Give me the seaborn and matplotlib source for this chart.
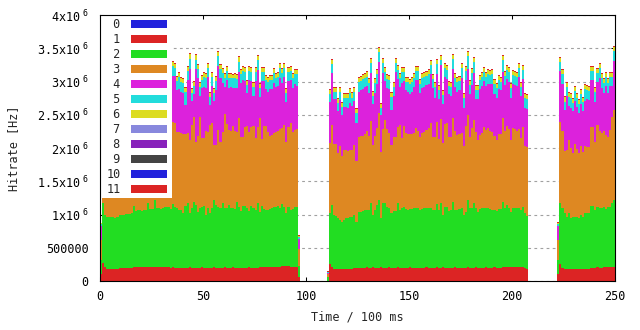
import numpy as np
import pandas as pd
import matplotlib
matplotlib.use("Agg")
import matplotlib.pyplot as plt
from matplotlib.patches import Patch, Rectangle
from matplotlib.ticker import FuncFormatter, MultipleLocator
import seaborn as sns

# First time slot (in units of 100 ms) of each recorded segment
seg_start = [0, 110, 222]

# Hit rate per source in kHz, one list per segment
src1 = [
    [100,
     265, 215, 185, 185, 185, 185, 185, 185, 190,
     190, 190, 190, 190, 190, 200, 205, 205, 205, 205,
     205, 205, 205, 205, 205, 205, 205, 205, 205, 205,
     205, 205, 205, 205, 200, 205, 200, 195, 200, 200,
     195, 200, 200, 205, 200, 200, 200, 195, 200, 205,
     200, 200, 200, 200, 200, 205, 200, 200, 200, 200,
     205, 200, 200, 200, 205, 200, 200, 200, 200, 200,
     200, 200, 205, 200, 200, 200, 200, 205, 210, 210,
     210, 210, 205, 210, 215, 215, 215, 215, 220, 220,
     220, 220, 215, 215, 215, 215, 55],
    [0, 255, 215, 175, 175, 175, 175, 175, 175, 180,
     180, 180, 180, 200, 200, 200, 200, 200, 200, 205,
     200, 200, 205, 200, 200, 200, 205, 200, 200, 200,
     205, 200, 200, 200, 205, 200, 200, 200, 200, 200,
     205, 200, 200, 200, 200, 200, 200, 200, 205, 200,
     200, 200, 200, 205, 200, 200, 205, 200, 200, 200,
     200, 200, 205, 200, 200, 200, 200, 200, 205, 200,
     200, 200, 205, 200, 200, 200, 200, 205, 200, 200,
     200, 205, 200, 200, 200, 205, 205, 205, 205, 205,
     205, 210, 205, 205, 205, 205, 200, 180],
    [100, 255, 200, 175, 175, 175, 175, 175, 175, 180, 180, 180, 180, 185,
     185, 185, 190, 190, 200, 205, 200, 200, 205, 205, 205, 205, 205, 210],
]
src2 = [
    [210,
     913, 778, 775, 770, 775, 780, 765, 775, 800,
     810, 805, 820, 815, 825, 830, 923, 845, 860, 865,
     855, 870, 863, 963, 873, 880, 1015, 888, 895, 883,
     890, 913, 905, 915, 877, 953, 918, 897, 867, 867,
     822, 928, 978, 822, 892, 983, 943, 847, 892, 913,
     928, 792, 892, 827, 892, 1013, 943, 918, 892, 968,
     887, 892, 943, 892, 887, 877, 993, 918, 857, 933,
     933, 892, 852, 928, 892, 867, 968, 837, 918, 867,
     857, 857, 872, 882, 893, 893, 913, 888, 938, 898,
     807, 898, 852, 862, 903, 903, 170],
    [60, 762, 928, 817, 802, 767, 742, 717, 742, 762,
     762, 787, 787, 792, 692, 842, 842, 857, 867, 862,
     867, 968, 787, 867, 943, 1018, 737, 978, 968, 918,
     887, 817, 857, 857, 963, 867, 892, 918, 877, 867,
     872, 882, 892, 892, 892, 867, 877, 892, 887, 892,
     892, 867, 867, 953, 867, 968, 787, 918, 918, 857,
     867, 993, 862, 867, 877, 892, 792, 842, 1013, 892,
     892, 968, 887, 842, 877, 892, 892, 887, 892, 877,
     867, 862, 857, 877, 877, 988, 887, 938, 887, 837,
     887, 882, 887, 887, 862, 913, 817, 797],
    [210, 922, 892, 842, 782, 842, 767, 792, 792, 777, 762, 812, 787, 832,
     832, 842, 938, 943, 867, 913, 892, 892, 903, 872, 913, 913, 963, 1008],
]
src3 = [
    [310,
     1150, 1250, 1200, 1300, 1250, 1150, 1300, 1200, 1250,
     1150, 1200, 1250, 1100, 1200, 1250, 1100, 1200, 1150, 1250,
     1200, 1100, 1200, 1100, 1250, 1150, 1050, 1200, 1150, 1250,
     1200, 1150, 1200, 1250, 1168, 1238, 1253, 1153, 1178, 1163,
     1193, 1082, 1042, 1093, 1254, 1278, 952, 1138, 1369, 1027,
     1017, 1268, 1153, 1319, 1279, 827, 902, 1152, 1003, 1077,
     1419, 1269, 1127, 1168, 1239, 1183, 1052, 1328, 1113, 1037,
     1178, 1239, 1188, 1183, 1239, 1088, 1143, 1404, 1007, 1254,
     1264, 1178, 1103, 1103, 1112, 1132, 1132, 1178, 1138, 1228,
     1068, 1193, 1304, 1168, 1152, 1163, 250],
    [40, 1053, 1203, 1068, 1083, 988, 1113, 987, 1053, 1028,
     1018, 1003, 1003, 1053, 917, 1118, 1138, 1123, 1143, 1193,
     1113, 1238, 1053, 1113, 1153, 1313, 1003, 1103, 1253, 1163,
     1138, 1028, 1113, 1113, 1143, 1279, 1053, 1213, 1143, 1143,
     1128, 1123, 1138, 1204, 1168, 1103, 1153, 1153, 1178, 1204,
     1289, 1103, 1093, 1238, 1063, 1263, 1078, 1243, 1253, 1113,
     1103, 1258, 1193, 1128, 1128, 1138, 1038, 1289, 1278, 1078,
     1204, 1253, 1153, 1078, 1118, 1138, 1219, 1178, 1204, 1183,
     1178, 1113, 1063, 1133, 1133, 1263, 1168, 1188, 1189, 1078,
     1204, 1189, 1168, 1189, 1078, 1193, 1013, 1033],
    [310, 1218, 1168, 943, 1013, 1103, 1053, 963, 1093, 1023, 988, 1038, 978, 1013,
     1003, 993, 1183, 1178, 1028, 1228, 1168, 1128, 1152, 1118, 1052, 1152, 1303, 1353],
]
src4 = [
    [200,
     650, 700, 750, 600, 700, 800, 650, 700, 650,
     750, 700, 650, 800, 700, 650, 750, 700, 750, 650,
     700, 800, 700, 750, 650, 750, 800, 700, 750, 650,
     700, 750, 700, 650, 603, 687, 712, 623, 648, 618,
     613, 437, 798, 1063, 361, 356, 1088, 868, 326, 753,
     778, 648, 828, 301, 562, 662, 823, 964, 953, 738,
     407, 657, 638, 653, 577, 648, 653, 702, 803, 848,
     697, 491, 773, 697, 451, 853, 862, 326, 873, 677,
     552, 603, 703, 688, 763, 678, 673, 777, 687, 722,
     592, 697, 647, 663, 698, 652, 155],
    [25, 622, 787, 672, 672, 632, 692, 618, 652, 652,
     637, 712, 662, 662, 562, 688, 688, 708, 708, 673,
     653, 717, 617, 653, 672, 758, 552, 852, 587, 617,
     653, 527, 612, 978, 722, 572, 828, 677, 653, 638,
     612, 643, 688, 722, 758, 662, 678, 678, 673, 672,
     727, 728, 587, 722, 612, 812, 592, 707, 662, 637,
     612, 737, 658, 653, 663, 828, 577, 687, 688, 637,
     652, 702, 487, 617, 688, 703, 697, 663, 672, 698,
     723, 637, 637, 673, 663, 692, 688, 702, 717, 637,
     662, 667, 673, 792, 632, 722, 577, 577],
    [205, 757, 698, 617, 812, 517, 612, 632, 647, 637, 602, 627, 617, 682,
     712, 697, 707, 707, 602, 652, 798, 688, 573, 738, 663, 663, 462, 738],
]
src5 = [
    [35,
     140, 150, 140, 130, 150, 140, 130, 150, 140,
     140, 130, 150, 140, 140, 130, 150, 140, 140, 130,
     150, 140, 140, 130, 150, 140, 140, 130, 150, 140,
     140, 130, 150, 140, 150, 150, 115, 140, 175, 150,
     150, 200, 140, 155, 115, 115, 140, 140, 135, 125,
     140, 140, 125, 125, 130, 125, 140, 150, 140, 140,
     140, 140, 140, 135, 140, 140, 140, 150, 135, 140,
     140, 125, 140, 140, 140, 140, 150, 125, 140, 140,
     140, 150, 140, 140, 140, 140, 140, 140, 140, 140,
     135, 140, 140, 140, 140, 175, 30],
    [5, 115, 125, 115, 115, 110, 125, 125, 125, 125,
     150, 140, 125, 140, 150, 150, 140, 150, 140, 140,
     140, 150, 125, 140, 140, 150, 110, 140, 140, 140,
     140, 200, 140, 125, 140, 140, 175, 140, 125, 140,
     140, 140, 140, 140, 140, 125, 140, 140, 140, 140,
     140, 140, 175, 140, 125, 75, 135, 140, 140, 130,
     140, 150, 140, 140, 140, 150, 140, 140, 200, 140,
     175, 175, 140, 135, 140, 140, 140, 140, 140, 140,
     140, 140, 150, 140, 125, 175, 140, 140, 140, 150,
     140, 140, 140, 125, 140, 140, 150, 150],
    [25, 135, 150, 120, 140, 135, 140, 110, 150, 140, 125, 150, 125, 175,
     140, 140, 140, 140, 150, 125, 140, 140, 140, 140, 140, 140, 140, 150],
]
src6 = [
    [10,
     60, 65, 60, 55, 60, 65, 60, 60, 55,
     60, 65, 60, 60, 55, 60, 65, 60, 60, 60,
     55, 60, 65, 60, 60, 55, 60, 60, 65, 60,
     60, 55, 60, 60, 60, 65, 60, 60, 65, 60,
     60, 55, 60, 70, 60, 60, 70, 65, 60, 60,
     60, 60, 65, 55, 60, 60, 60, 65, 60, 60,
     60, 60, 60, 60, 55, 60, 60, 65, 60, 60,
     60, 60, 60, 60, 55, 60, 65, 60, 60, 60,
     60, 60, 60, 60, 60, 60, 60, 60, 60, 60,
     65, 60, 60, 60, 60, 60, 20],
    [10, 60, 65, 55, 60, 60, 60, 55, 60, 60,
     60, 60, 65, 60, 60, 60, 60, 60, 60, 65,
     60, 60, 60, 60, 60, 65, 55, 60, 60, 60,
     60, 60, 60, 65, 60, 60, 60, 60, 60, 60,
     60, 60, 60, 60, 60, 65, 60, 60, 60, 60,
     65, 60, 60, 60, 60, 70, 55, 60, 60, 60,
     60, 65, 60, 60, 60, 60, 60, 60, 65, 60,
     60, 60, 60, 60, 60, 60, 60, 60, 60, 60,
     60, 60, 60, 60, 60, 65, 60, 60, 60, 60,
     60, 60, 60, 60, 60, 60, 60, 60],
    [15, 60, 60, 65, 60, 60, 60, 65, 60, 60, 60, 60, 60, 60,
     60, 60, 60, 60, 60, 60, 60, 60, 60, 60, 60, 60, 60, 55],
]
src11 = [
    [10,
     15, 15, 15, 15, 15, 15, 15, 15, 15,
     15, 15, 15, 15, 15, 15, 15, 15, 15, 15,
     15, 15, 15, 15, 15, 15, 15, 15, 15, 15,
     15, 15, 15, 15, 15, 15, 15, 15, 15, 15,
     15, 15, 15, 15, 15, 15, 15, 15, 15, 15,
     15, 15, 15, 15, 15, 15, 15, 15, 15, 15,
     15, 15, 15, 15, 15, 15, 15, 15, 15, 15,
     15, 15, 15, 15, 15, 15, 15, 15, 15, 15,
     15, 15, 15, 15, 15, 15, 15, 15, 15, 15,
     15, 15, 15, 15, 15, 15, 10],
    [10, 15, 15, 15, 15, 15, 15, 15, 15, 15,
     15, 15, 15, 15, 15, 15, 15, 15, 15, 15,
     15, 15, 15, 15, 15, 15, 15, 15, 15, 15,
     15, 15, 15, 15, 15, 15, 15, 15, 15, 15,
     15, 15, 15, 15, 15, 15, 15, 15, 15, 15,
     15, 15, 15, 15, 15, 15, 15, 15, 15, 15,
     15, 15, 15, 15, 15, 15, 15, 15, 15, 15,
     15, 15, 15, 15, 15, 15, 15, 15, 15, 15,
     15, 15, 15, 15, 15, 15, 15, 15, 15, 15,
     15, 15, 15, 15, 15, 15, 15, 15],
    [15, 15, 15, 15, 15, 15, 15, 15, 15, 15, 15, 15, 15, 15,
     15, 15, 15, 15, 15, 15, 15, 15, 15, 15, 15, 15, 15, 15],
]

# Sources 0 and 7-10 delivered no hits in this run
sources = ["0", "1", "2", "3", "4", "5", "6", "7", "8", "9", "10", "11"]
rates = {"1": src1, "2": src2, "3": src3, "4": src4, "5": src5, "6": src6, "11": src11}
colors = ["#2222dc", "#dc2424", "#22dd22", "#de8822", "#dc22dc", "#22dcdc",
          "#dcdc22", "#8888dd", "#8822bb", "#444444", "#2222dc", "#dc2424"]

sns.set_style("ticks")
plt.rcParams["font.family"] = ["DejaVu Sans Mono"]
plt.rcParams["mathtext.default"] = "regular"
plt.rcParams["font.size"] = 8.5

seg_len = [len(s) for s in src1]
rows = []
for name in sources:
    segs = rates.get(name)
    for k, start in enumerate(seg_start):
        vals = segs[k] if segs is not None else [0] * seg_len[k]
        assert len(vals) == seg_len[k], (name, k, len(vals))
        for i, v in enumerate(vals):
            rows.append((start + i, name, v * 1000.0))
df = pd.DataFrame(rows, columns=["time", "source", "hitrate"])

fig = plt.figure(figsize=(6.4, 3.3), dpi=100)
ax = fig.add_axes([100 / 640, 49 / 330, 515 / 640, 266 / 330])

sns.histplot(
    data=df, x="time", weights="hitrate", hue="source",
    hue_order=sources[::-1], palette=dict(zip(sources, colors)),
    multiple="stack", binwidth=1, binrange=(0, 250), element="bars",
    fill=True, alpha=1, linewidth=0, edgecolor="none",
    antialiased=False, legend=False, ax=ax,
)

ax.set_xlim(0, 250)
ax.set_ylim(0, 4e6)
ax.xaxis.set_major_locator(MultipleLocator(50))
ax.yaxis.set_major_locator(MultipleLocator(5e5))


def hz_label(v, pos):
    if v == 0:
        return "0"
    if v < 1e6:
        return f"{v:.0f}"
    return f"{v / 1e6:g}" + r"x10$^{\ 6}$"


ax.yaxis.set_major_formatter(FuncFormatter(hz_label))
ax.tick_params(axis="both", direction="in", length=2.6, width=0.75,
               top=True, right=True, colors="black", labelsize=8.5)
ax.tick_params(axis="x", pad=6.5)
ax.tick_params(axis="y", pad=8.2)

ax.set_axisbelow(True)
ax.grid(axis="y", color="#a0a0a0", linestyle=(0, (2.5, 3)), linewidth=0.8)
ax.grid(axis="x", visible=False)

for sp in ax.spines.values():
    sp.set_color("black")
    sp.set_linewidth(0.8)
    sp.set_zorder(10)

ax.set_xlabel("Time / 100 ms", fontsize=8.5)
ax.set_ylabel("Hitrate [Hz]", fontsize=8.5)
ax.xaxis.set_label_coords(0.5, -0.112)
ax.yaxis.set_label_coords(-0.155, 0.5)

# opaque key area in the upper left corner
ax.add_patch(Rectangle((0, 0.313), 0.1398, 0.687, transform=ax.transAxes,
                       facecolor="white", edgecolor="none", zorder=4))
handles = [Patch(facecolor=c, edgecolor=c, linewidth=0) for c in colors]
labels = [f"{s:>2}" for s in sources]
leg = ax.legend(handles, labels, loc="upper left", bbox_to_anchor=(0.0126, 0.9875),
                frameon=False, markerfirst=False, borderpad=0, borderaxespad=0,
                handlelength=3.05, handleheight=0.6, handletextpad=0.9,
                labelspacing=0.167, fontsize=8.5)
leg.set_zorder(5)

fig.savefig("out.png", dpi=100)
